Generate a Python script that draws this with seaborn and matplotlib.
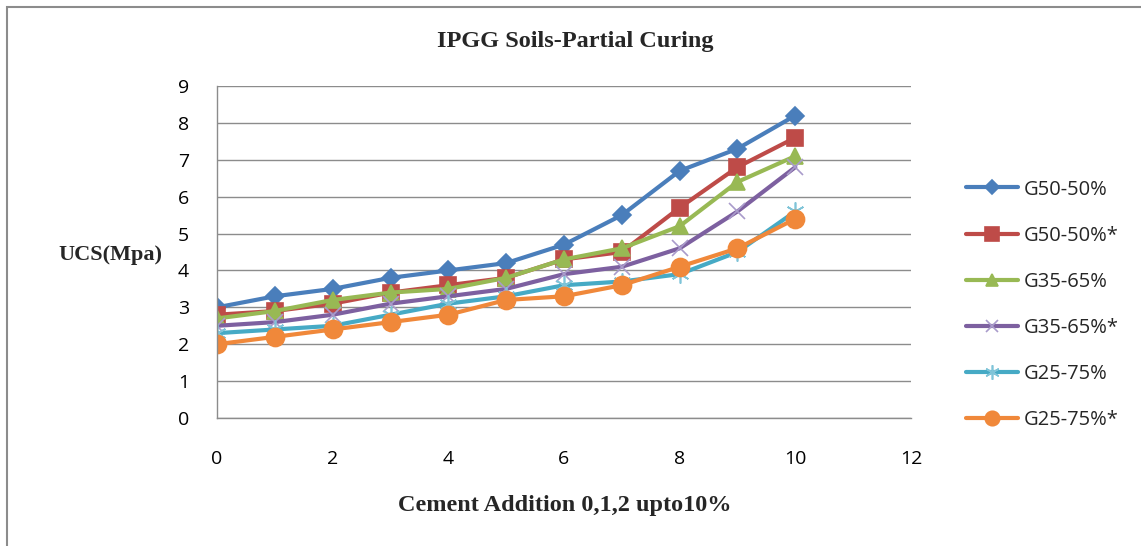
import matplotlib
matplotlib.use("Agg")
import matplotlib.pyplot as plt
import seaborn as sns
import pandas as pd
from matplotlib.patches import Rectangle

sns.set_theme(style="white")
plt.rcParams['font.family'] = ['Open Sans', 'DejaVu Sans']

cement = [0, 1, 2, 3, 4, 5, 6, 7, 8, 9, 10]
g50_50 = [3.0, 3.3, 3.5, 3.8, 4.0, 4.2, 4.7, 5.5, 6.7, 7.3, 8.2]
g50_50s = [2.8, 2.9, 3.1, 3.4, 3.6, 3.8, 4.3, 4.5, 5.7, 6.8, 7.6]
g35_65 = [2.7, 2.9, 3.2, 3.4, 3.5, 3.8, 4.3, 4.6, 5.2, 6.4, 7.1]
g35_65s = [2.5, 2.6, 2.8, 3.1, 3.3, 3.5, 3.9, 4.1, 4.6, 5.6, 6.8]
g25_75 = [2.3, 2.4, 2.5, 2.8, 3.1, 3.3, 3.6, 3.7, 3.9, 4.5, 5.6]
g25_75s = [2.0, 2.2, 2.4, 2.6, 2.8, 3.2, 3.3, 3.6, 4.1, 4.6, 5.4]

series_names = ["G50-50%", "G50-50%*", "G35-65%", "G35-65%*", "G25-75%", "G25-75%*"]
series_values = [g50_50, g50_50s, g35_65, g35_65s, g25_75, g25_75s]
colors = ["#4A7EBB", "#BE4B48", "#98B954", "#7D60A0", "#46AAC5", "#F0883A"]
marker_colors = ["#4A7EBB", "#BE4B48", "#98B954", "#A99BCB", "#7FC4D8", "#F0883A"]
markers = ["D", "s", "^", "x", (6, 2, 0), "o"]
msizes = [9, 12, 11, 11, 13, 13]
yticks = [0, 1, 2, 3, 4, 5, 6, 7, 8, 9]
xticks = [0, 2, 4, 6, 8, 10, 12]

fig = plt.figure(figsize=(11.41, 5.46), dpi=100)
ax = fig.add_axes([0.1902, 0.2344, 0.6082, 0.6081])

for name, vals, c, mc, m, ms in zip(series_names, series_values, colors, marker_colors, markers, msizes):
    df = pd.DataFrame({"x": cement, "y": vals})
    sns.lineplot(data=df, x="x", y="y", ax=ax, color=c, linewidth=3.0,
                 marker=m, markersize=ms, markerfacecolor=mc, markeredgecolor=mc,
                 markeredgewidth=1.2, label=name)

ax.set_xlim(0, 12)
ax.set_ylim(0, 9)
ax.set_xticks(xticks)
ax.set_yticks(yticks)
ax.grid(axis="y", color="#8C8C8C", linewidth=1.0)
ax.grid(axis="x", visible=False)
for s in ["top", "right"]:
    ax.spines[s].set_visible(False)
for s in ["left", "bottom"]:
    ax.spines[s].set_color("#8C8C8C")
    ax.spines[s].set_linewidth(1.0)
ax.tick_params(axis="both", which="major", direction="out", length=5, width=1,
               color="#8C8C8C", labelsize=14, labelcolor="#000000")
ax.tick_params(axis="x", pad=18)
ax.tick_params(axis="y", pad=15)
ax.set_xlabel("")
ax.set_ylabel("")

fig.text(575 / 1141, 1 - 42 / 546, "IPGG Soils-Partial Curing", ha="center", va="center",
         fontsize=17.5, fontweight="bold", family="Liberation Serif")
fig.text(110 / 1141, 1 - 255 / 546, "UCS(Mpa)", ha="center", va="center",
         fontsize=16, fontweight="bold", family="Liberation Serif")
fig.text(565 / 1141, 1 - 505 / 546, "Cement Addition 0,1,2 upto10%", ha="center", va="center",
         fontsize=17.5, fontweight="bold", family="Liberation Serif")

handles, labels = ax.get_legend_handles_labels()
ax.legend(handles, labels, loc="center left", bbox_to_anchor=(958 / 1141, 1 - 305 / 546),
          bbox_transform=fig.transFigure, frameon=False, fontsize=14.5, markerscale=0.8,
          handlelength=2.6, handletextpad=0.25, labelspacing=1.3, borderaxespad=0)

fig.patches.append(Rectangle((7 / 1141, -0.1), 1.2, 1.1 - 7 / 546,
                             transform=fig.transFigure, fill=False,
                             edgecolor="#8C8C8C", linewidth=1.5))

fig.savefig("out.png", dpi=100)
